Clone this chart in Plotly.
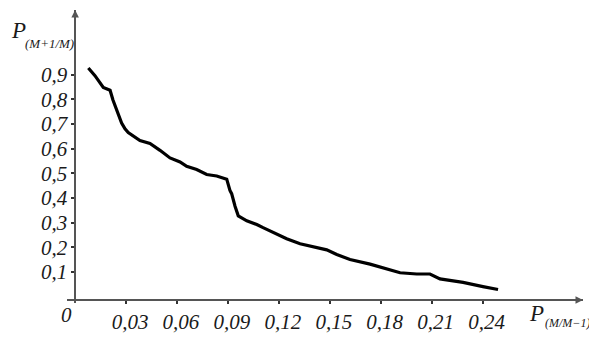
import plotly.graph_objects as go

# Curve: P(M+1/M) as a function of P(M/M-1)
p_prev = [0.0078, 0.0117, 0.0166, 0.0206, 0.0223, 0.0245, 0.0274, 0.0294, 0.0313,
          0.0382, 0.0441, 0.0500, 0.0559, 0.0618, 0.0657, 0.0716, 0.0775, 0.0834,
          0.0893, 0.0912, 0.0922, 0.0942, 0.0961, 0.1011, 0.1070, 0.1107, 0.1166,
          0.1246, 0.1325, 0.1401, 0.1482, 0.1541, 0.1619, 0.1737, 0.1813, 0.1914,
          0.2012, 0.2090, 0.2149, 0.2285, 0.2402, 0.2491]
p_next = [0.927, 0.896, 0.848, 0.837, 0.797, 0.758, 0.704, 0.680, 0.665,
          0.633, 0.621, 0.593, 0.562, 0.546, 0.528, 0.515, 0.495, 0.489,
          0.476, 0.430, 0.417, 0.366, 0.327, 0.307, 0.292, 0.279, 0.259,
          0.234, 0.214, 0.201, 0.189, 0.170, 0.150, 0.131, 0.115, 0.096,
          0.091, 0.091, 0.071, 0.057, 0.040, 0.028]

x_ticks = [0.03, 0.06, 0.09, 0.12, 0.15, 0.18, 0.21, 0.24]
x_tick_labels = ["0,03", "0,06", "0,09", "0,12", "0,15", "0,18", "0,21", "0,24"]
y_ticks = [0.1, 0.2, 0.3, 0.4, 0.5, 0.6, 0.7, 0.8, 0.9]
y_tick_labels = ["0,1", "0,2", "0,3", "0,4", "0,5", "0,6", "0,7", "0,8", "0,9"]

W, H = 589, 340
L, R, T, B = 67, 6, 10, 27
PW, PH = W - L - R, H - T - B

X_RANGE = [-0.00477, 0.29913]
Y_RANGE = [-0.02669, 1.16248]

AXIS_COLOR = "#555555"
TEXT_COLOR = "#1a1a1a"
SERIF = "Liberation Serif"


def px(xp):
    return (xp - L) / PW


def py(yp):
    return (H - B - yp) / PH


fig = go.Figure()
fig.add_trace(go.Scatter(
    x=p_prev, y=p_next, mode="lines",
    line=dict(color="black", width=3.2),
    hoverinfo="skip", showlegend=False,
))

tick_font = dict(family=SERIF, size=21, style="italic", color=TEXT_COLOR)

fig.update_layout(
    width=W, height=H,
    margin=dict(l=L, r=R, t=T, b=B, pad=0),
    paper_bgcolor="white", plot_bgcolor="white",
    showlegend=False,
    xaxis=dict(
        range=X_RANGE, anchor="free", position=py(310),
        showline=True, linecolor=AXIS_COLOR, linewidth=1.5,
        showgrid=False, zeroline=False,
        ticks="outside", ticklen=3, tickwidth=2, tickcolor="#333333",
        tickvals=x_ticks, ticktext=x_tick_labels, tickfont=tick_font,
        ticklabelshift=4,
    ),
    yaxis=dict(
        range=Y_RANGE, anchor="free", position=px(75.1),
        showline=True, linecolor=AXIS_COLOR, linewidth=1.5,
        showgrid=False, zeroline=False,
        ticks="outside", ticklen=3, tickwidth=2, tickcolor="#333333",
        tickvals=y_ticks, ticktext=y_tick_labels, tickfont=tick_font,
    ),
)

annotations = [
    # arrow heads on both axes
    dict(xref="paper", yref="paper", x=px(75.1), y=py(10), ax=0, ay=12,
         showarrow=True, arrowhead=2, arrowsize=1, arrowwidth=1.5,
         arrowcolor=AXIS_COLOR, text="", standoff=0),
    dict(xref="paper", yref="paper", x=px(583), y=py(310), ax=-12, ay=0,
         showarrow=True, arrowhead=2, arrowsize=1, arrowwidth=1.5,
         arrowcolor=AXIS_COLOR, text="", standoff=0),
    # origin label
    dict(xref="paper", yref="paper", x=px(66), y=py(325), text="0",
         showarrow=False, xanchor="center", yanchor="middle",
         font=tick_font),
    # y-axis title
    dict(xref="paper", yref="paper", x=px(9), y=py(31), text="P",
         showarrow=False, xanchor="left", yanchor="middle",
         font=dict(family=SERIF, size=23, style="italic", color=TEXT_COLOR)),
    dict(xref="paper", yref="paper", x=px(23), y=py(45), text="(M+1/M)",
         showarrow=False, xanchor="left", yanchor="middle",
         font=dict(family=SERIF, size=13, style="italic", color=TEXT_COLOR)),
    # x-axis title
    dict(xref="paper", yref="paper", x=px(527), y=py(324), text="P",
         showarrow=False, xanchor="left", yanchor="middle",
         font=dict(family=SERIF, size=23, style="italic", color=TEXT_COLOR)),
    dict(xref="paper", yref="paper", x=px(543), y=py(334), text="(M/M\u22121)",
         showarrow=False, xanchor="left", yanchor="middle",
         font=dict(family=SERIF, size=12, style="italic", color=TEXT_COLOR)),
]
fig.update_layout(annotations=annotations)

fig.write_html("out.html")
